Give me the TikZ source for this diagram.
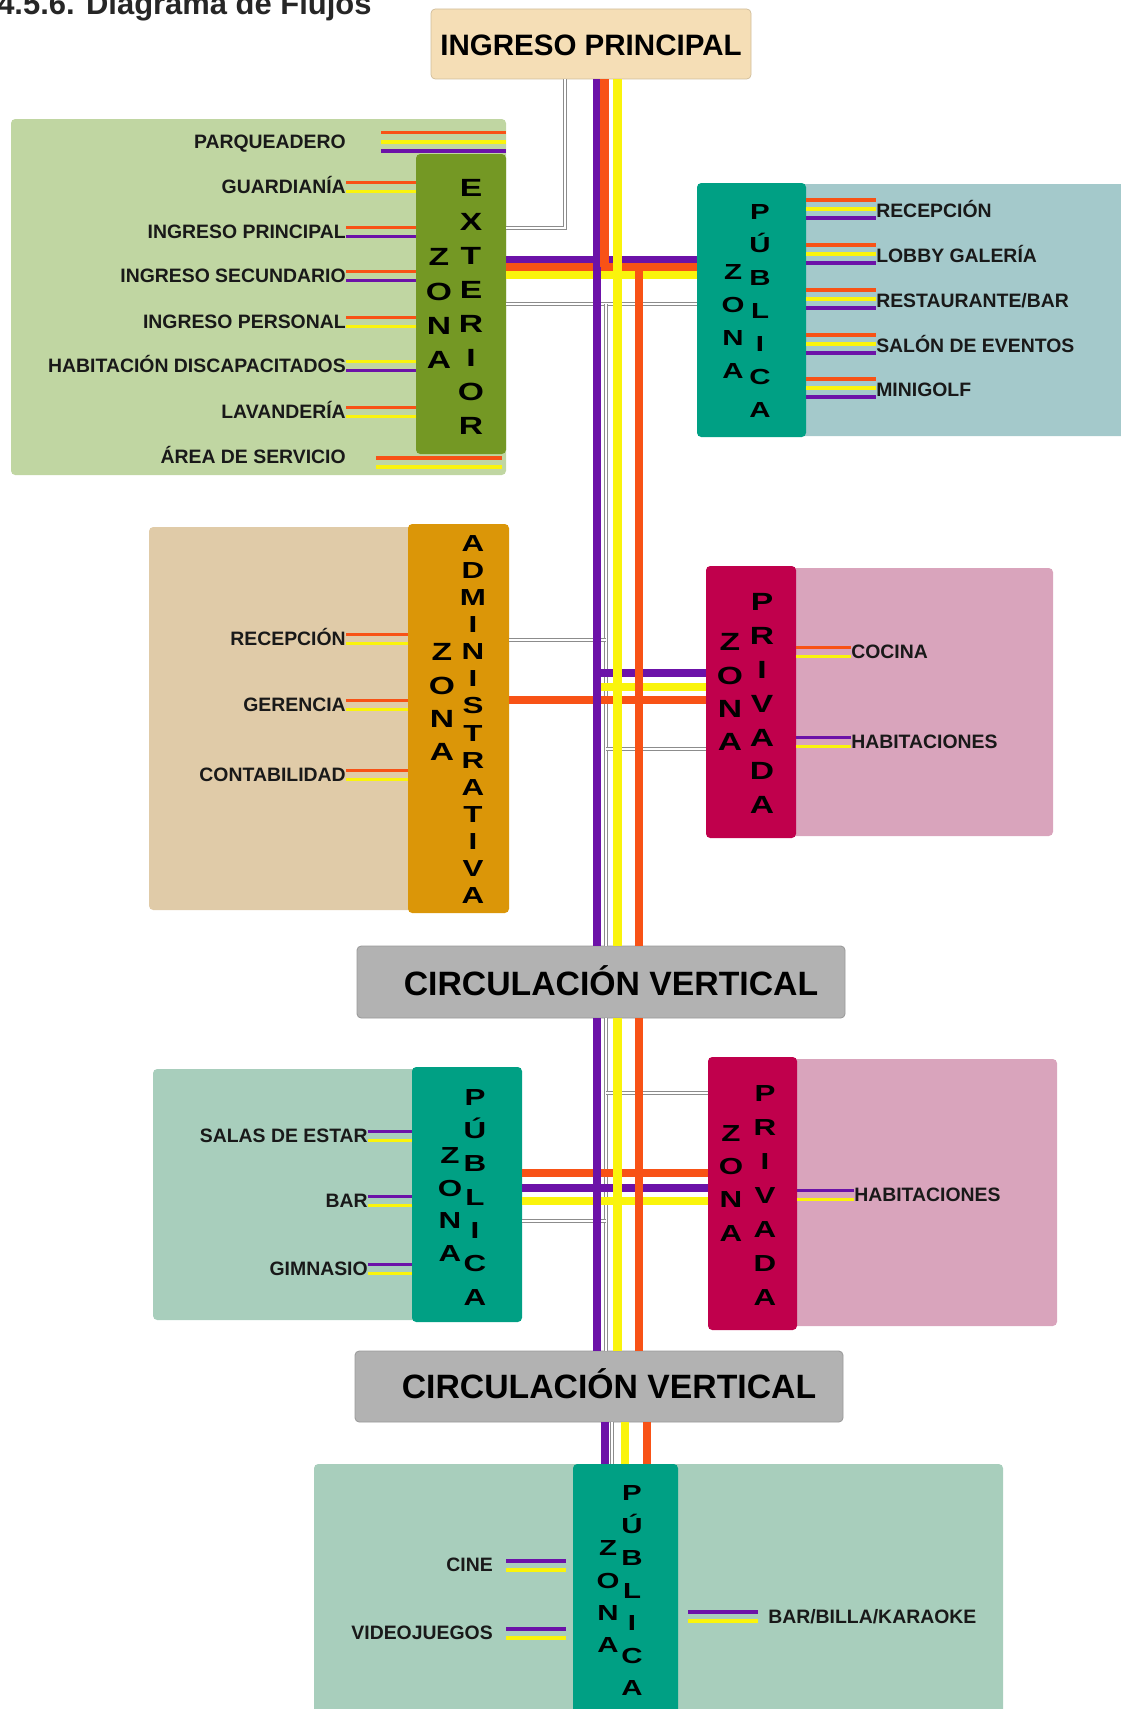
\documentclass[tikz,border=0pt]{standalone}
\usepackage{fontspec}
\setmainfont{Liberation Sans}
\newfontfamily\ltrfont[FakeStretch=1.35]{Liberation Sans}
\usepackage{xcolor}
\usepackage{tikz}
\usetikzlibrary{calc,fit,positioning}

\definecolor{ora}{RGB}{248,82,22}
\definecolor{yel}{RGB}{250,244,12}
\definecolor{pur}{RGB}{108,18,168}
\definecolor{ingfill}{RGB}{245,222,182}
\definecolor{extbg}{RGB}{192,214,162}
\definecolor{extbox}{RGB}{116,152,36}
\definecolor{pubbox}{RGB}{0,160,132}
\definecolor{pubbg}{RGB}{164,201,203}
\definecolor{pubbgb}{RGB}{168,206,188}
\definecolor{admbg}{RGB}{224,203,168}
\definecolor{admbox}{RGB}{219,150,8}
\definecolor{privbox}{RGB}{192,0,76}
\definecolor{privbg}{RGB}{217,164,188}
\definecolor{circfill}{RGB}{178,178,178}

\begin{document}
\begin{tikzpicture}[x=0.025cm, y=-0.025cm,
      zbg/.style={fill=#1, rounded corners=3pt, inner sep=0pt},
      zbox/.style={fill=#1, rounded corners=3pt, inner sep=0pt},
      ingbox/.style={fill=ingfill, draw=ingfill!85!black, line width=0.5pt, rounded corners=3pt, inner sep=0pt},
      ingtxt/.style={font=\bfseries\fontsize{21}{21}\selectfont, inner sep=0pt, text height=15pt, text depth=0pt},
      circbox/.style={fill=circfill, draw=black!40, line width=0.6pt, rounded corners=3pt, inner sep=0pt},
      circtxt/.style={font=\bfseries\fontsize{24}{24}\selectfont, inner sep=0pt, text height=17.3pt, text depth=0pt},
      ttl/.style={font=\bfseries\fontsize{22}{22}\selectfont, text=black!85, inner sep=0pt},
      lbl/.style={font=\bfseries\fontsize{13.8}{14}\selectfont, text=black!90, inner sep=0pt,
                  text height=9.9pt, text depth=0pt},
      bigltr/.style={font=\ltrfont\bfseries\fontsize{17.7}{17.7}\selectfont, inner sep=0pt, text height=12.7pt, text depth=0pt},
      midltr/.style={font=\ltrfont\bfseries\fontsize{16.5}{16.5}\selectfont, inner sep=0pt, text height=11.8pt, text depth=0pt},
      smlltr/.style={font=\ltrfont\bfseries\fontsize{15.5}{15.5}\selectfont, inner sep=0pt, text height=11.1pt, text depth=0pt},
      stub/.style={line width=2.5pt},
      band/.style={line width=5pt},
      trunk/.style={line width=6.2pt},
      svc/.style={draw=black!45, line width=0.5pt, double=white, double distance=1.4pt}]
    \useasboundingbox (0,0) rectangle (1120,1709);

    \node[ttl, anchor=base west] (ttl) at (-3,15) {4.5.6. Diagrama de Flujos};

    % fondos
    \node[zbg=extbg, fit={(11,119) (506,475)}] (extbg) {};
    \node[zbg=pubbg, fit={(800,184) (1125,436)}] (pubbg) {};
    \node[zbg=admbg, fit={(149,527) (414,910)}] (admbg) {};
    \node[zbg=privbg, fit={(790,568) (1053,836)}] (privbg) {};
    \node[zbg=pubbgb, fit={(153,1069) (418,1320)}] (pubbgb) {};
    \node[zbg=privbg, fit={(790,1059) (1057,1326)}] (privbgb) {};
    \node[zbg=pubbgb, fit={(314,1464) (1003,1730)}] (pubbgc) {};

    % zonas
    \node[zbox=extbox, fit={(416,154) (506,454)}] (ext) {};
    \node[zbox=pubbox, fit={(697,183) (806,437)}] (pub) {};
    \node[zbox=admbox, fit={(408,524) (509,913)}] (adm) {};
    \node[zbox=privbox, fit={(706,566) (796,838)}] (priv) {};
    \node[zbox=pubbox, fit={(412,1067) (522,1322)}] (pubb) {};
    \node[zbox=privbox, fit={(708,1057) (797,1330)}] (privb) {};
    \node[zbox=pubbox, fit={(573,1464) (678,1730)}] (pubc) {};
    \node[ingbox, fit={(431,9) (751,79)}] (ing) {};
    \node[ingtxt] (ingt) at ($(ing.center)+(0,1)$) {INGRESO PRINCIPAL};
    \node[circbox, fit={(357,946) (845,1018)}] (circa) {};
    \node[circtxt] (circat) at ($(circa.center)+(10,1)$) {CIRCULACIÓN VERTICAL};
    \node[circbox, fit={(355,1351) (843,1422)}] (circb) {};
    \node[circtxt] (circbt) at ($(circb.center)+(10,0)$) {CIRCULACIÓN VERTICAL};

    % letras de las zonas
    \foreach \lt [count=\ii from 0] in {Z,O,N,A} \node[bigltr] (exz\ii) at (439,{257+34.3*\ii}) {\lt};
    \foreach \lt [count=\ii from 0] in {E,X,T,E,R,I,O,R} \node[bigltr] (exe\ii) at (471,{188+33.9*\ii}) {\lt};
    \foreach \lt [count=\ii from 0] in {Z,O,N,A} \node[smlltr] (puz\ii) at (733,{272+33*\ii}) {\lt};
    \foreach \lt [count=\ii from 0] in {P,Ú,B,L,I,C,A} \node[smlltr] (pup\ii) at (760,{212+33*\ii}) {\lt};
    \foreach \lt [count=\ii from 0] in {Z,O,N,A} \node[bigltr] (adz\ii) at (442,{652+33.3*\ii}) {\lt};
    \foreach \lt [count=\ii from 0] in {A,D,M,I,N,I,S,T,R,A,T,I,V,A} \node[midltr] (ada\ii) at (473,{543+27.1*\ii}) {\lt};
    \foreach \lt [count=\ii from 0] in {Z,O,N,A} \node[bigltr] (prz\ii) at (730,{642+33.3*\ii}) {\lt};
    \foreach \lt [count=\ii from 0] in {P,R,I,V,A,D,A} \node[bigltr] (prp\ii) at (762,{602+33.8*\ii}) {\lt};
    \foreach \lt [count=\ii from 0] in {Z,O,N,A} \node[midltr] (pbz\ii) at (450,{1155+32.7*\ii}) {\lt};
    \foreach \lt [count=\ii from 0] in {P,Ú,B,L,I,C,A} \node[midltr] (pbp\ii) at (475,{1097+33.3*\ii}) {\lt};
    \foreach \lt [count=\ii from 0] in {Z,O,N,A} \node[midltr] (rbz\ii) at (731,{1133+33.3*\ii}) {\lt};
    \foreach \lt [count=\ii from 0] in {P,R,I,V,A,D,A} \node[midltr] (rbp\ii) at (765,{1093+34*\ii}) {\lt};
    \foreach \lt [count=\ii from 0] in {Z,O,N,A} \node[smlltr] (pcz\ii) at (608,{1548+32.3*\ii}) {\lt};
    \foreach \lt [count=\ii from 0] in {P,Ú,B,L,I,C,A} \node[smlltr] (pcp\ii) at (632,{1493+32.5*\ii}) {\lt};

    % espacios
    \node[lbl, anchor=east] (parq) at (346,142) {PARQUEADERO};
    \node[lbl, anchor=east] (gua) at (346,187) {GUARDIANÍA};
    \node[lbl, anchor=east] (ipr) at (346,232) {INGRESO PRINCIPAL};
    \node[lbl, anchor=east] (ise) at (346,276) {INGRESO SECUNDARIO};
    \node[lbl, anchor=east] (ipe) at (346,322) {INGRESO PERSONAL};
    \node[lbl, anchor=east] (hab) at (346,366) {HABITACIÓN DISCAPACITADOS};
    \node[lbl, anchor=east] (lav) at (346,412) {LAVANDERÍA};
    \node[lbl, anchor=east] (are) at (346,457) {ÁREA DE SERVICIO};
    \node[lbl, anchor=west] (rec) at (876,211) {RECEPCIÓN};
    \node[lbl, anchor=west] (lob) at (876,256) {LOBBY GALERÍA};
    \node[lbl, anchor=west] (res) at (876,301) {RESTAURANTE/BAR};
    \node[lbl, anchor=west] (sal) at (876,346) {SALÓN DE EVENTOS};
    \node[lbl, anchor=west] (min) at (876,390) {MINIGOLF};
    \node[lbl, anchor=east] (arec) at (346,639) {RECEPCIÓN};
    \node[lbl, anchor=east] (ger) at (346,705) {GERENCIA};
    \node[lbl, anchor=east] (con) at (346,775) {CONTABILIDAD};
    \node[lbl, anchor=west] (coc) at (851,652) {COCINA};
    \node[lbl, anchor=west] (hbt) at (851,742) {HABITACIONES};
    \node[lbl, anchor=east] (sde) at (368,1136) {SALAS DE ESTAR};
    \node[lbl, anchor=east] (bar) at (368,1201) {BAR};
    \node[lbl, anchor=east] (gim) at (368,1269) {GIMNASIO};
    \node[lbl, anchor=west] (hbtb) at (854,1195) {HABITACIONES};
    \node[lbl, anchor=east] (cin) at (493,1565) {CINE};
    \node[lbl, anchor=east] (vid) at (493,1633) {VIDEOJUEGOS};
    \node[lbl, anchor=west] (bbk) at (768,1617) {BAR/BILLA/KARAOKE};

    % flujos hacia cada espacio
    \foreach \kk/\dd in {ora/-9.5, yel/0, pur/9}
      \draw[stub,\kk] ($(parq.east)+(35,\dd)$) -- ($(parq.east -| ext.east)+(0,\dd)$);
    \foreach \nn/\ca/\cb in {gua/ora/yel, ipr/ora/pur, ise/ora/pur, ipe/ora/yel, hab/yel/pur, lav/ora/yel}{
      \draw[stub,\ca] ($(\nn.east)+(0,-4.5)$) -- ($(\nn.east -| ext.west)+(0,-4.5)$);
      \draw[stub,\cb] ($(\nn.east)+(0,4.5)$) -- ($(\nn.east -| ext.west)+(0,4.5)$);
    }
    \foreach \kk/\dd in {ora/1, yel/10}
      \draw[stub,\kk] ($(are.east)+(30,\dd)$) -- ($(are.east -| ext.east)+(-4,\dd)$);
    \foreach \nn in {rec,lob,res,sal,min}
      \foreach \kk/\dd in {ora/-11, yel/-2, pur/7}
        \draw[stub,\kk] ($(\nn.west -| pub.east)+(0,\dd)$) -- ($(\nn.west)+(0,\dd)$);
    \foreach \nn in {arec,ger,con}{
      \draw[stub,ora] ($(\nn.east)+(0,-4.5)$) -- ($(\nn.east -| adm.west)+(0,-4.5)$);
      \draw[stub,yel] ($(\nn.east)+(0,4.5)$) -- ($(\nn.east -| adm.west)+(0,4.5)$);
    }
    \foreach \nn/\ca/\cb in {coc/ora/yel, hbt/pur/yel}{
      \draw[stub,\ca] ($(\nn.west -| priv.east)+(0,-4.5)$) -- ($(\nn.west)+(0,-4.5)$);
      \draw[stub,\cb] ($(\nn.west -| priv.east)+(0,4.5)$) -- ($(\nn.west)+(0,4.5)$);
    }
    \foreach \nn in {sde,bar,gim}{
      \draw[stub,pur] ($(\nn.east)+(0,-4.5)$) -- ($(\nn.east -| pubb.west)+(0,-4.5)$);
      \draw[stub,yel] ($(\nn.east)+(0,4.5)$) -- ($(\nn.east -| pubb.west)+(0,4.5)$);
    }
    \draw[stub,pur] ($(hbtb.west -| privb.east)+(0,-4.5)$) -- ($(hbtb.west)+(0,-4.5)$);
    \draw[stub,yel] ($(hbtb.west -| privb.east)+(0,4.5)$) -- ($(hbtb.west)+(0,4.5)$);
    \foreach \nn in {cin,vid}{
      \draw[stub,pur] ($(\nn.east)+(13,-4)$) -- ($(\nn.east -| pubc.west)+(-7,-4)$);
      \draw[stub,yel] ($(\nn.east)+(13,5)$) -- ($(\nn.east -| pubc.west)+(-7,5)$);
    }
    \draw[stub,pur] ($(bbk.west -| pubc.east)+(10,-5)$) -- ($(bbk.west)+(-10,-5)$);
    \draw[stub,yel] ($(bbk.west -| pubc.east)+(10,4)$) -- ($(bbk.west)+(-10,4)$);

    % ejes de circulacion
    \coordinate (cP) at (597,0);
    \coordinate (cS) at (606,0);
    \coordinate (cY) at (617.5,0);
    \coordinate (cO) at (639,0);
    \coordinate (cOi) at (604.5,0);
    \coordinate (cI) at (565,0);
    \coordinate (dP) at (605,0);
    \coordinate (dS) at (612,0);
    \coordinate (dY) at (625,0);
    \coordinate (dO) at (647,0);
    \coordinate (rI) at (0,228);
    \coordinate (rPa) at (0,260);
    \coordinate (rOa) at (0,267);
    \coordinate (rYa) at (0,275);
    \coordinate (rSa) at (0,304);
    \coordinate (rSb) at (0,640);
    \coordinate (rPb) at (0,673);
    \coordinate (rYb) at (0,687);
    \coordinate (rOb) at (0,700);
    \coordinate (rSc) at (0,749);
    \coordinate (rSd) at (0,1093);
    \coordinate (rOc) at (0,1173);
    \coordinate (rPc) at (0,1188);
    \coordinate (rYc) at (0,1201);
    \coordinate (rSe) at (0,1221);

    % servicio
    \draw[svc] (ing.south -| cI) |- (ext.east |- rI);
    \draw[svc] (ext.east |- rSa) -- (pub.west |- rSa);
    \draw[svc] (cS |- rSa) -- (circa.north -| cS);
    \draw[svc] (adm.east |- rSb) -- (cS |- rSb);
    \draw[svc] (cS |- rSc) -- (priv.west |- rSc);
    \draw[svc] (circa.south -| cS) -- (circb.north -| cS);
    \draw[svc] (cS |- rSd) -- (privb.west |- rSd);
    \draw[svc] (pubb.east |- rSe) -- (cS |- rSe);
    \draw[svc] (circb.south -| dS) -- (pubc.north -| dS);

    % ramales
    \draw[band,pur] (ext.east |- rPa) -- (pub.west |- rPa);
    \draw[band,ora] (ext.east |- rOa) -- (pub.west |- rOa);
    \draw[band,yel] (ext.east |- rYa) -- (pub.west |- rYa);
    \draw[band,pur] (cP |- rPb) -- (priv.west |- rPb);
    \draw[band,yel] (cP |- rYb) -- (priv.west |- rYb);
    \draw[band,ora] (adm.east |- rOb) -- (priv.west |- rOb);
    \draw[band,ora] (pubb.east |- rOc) -- (privb.west |- rOc);
    \draw[band,pur] (pubb.east |- rPc) -- (privb.west |- rPc);
    \draw[band,yel] (pubb.east |- rYc) -- (privb.west |- rYc);

    % troncales
    \draw[trunk,pur] (ing.south -| cP) -- (circa.north -| cP);
    \draw[trunk,ora] (ing.south -| cOi) -- (cOi |- rOa);
    \draw[trunk,yel] (ing.south -| cY) -- (circa.north -| cY);
    \draw[trunk,ora] (cO |- rOa) -- (circa.north -| cO);
    \foreach \cc/\kk in {cP/pur, cY/yel, cO/ora}
      \draw[trunk,\kk] (circa.south -| \cc) -- (circb.north -| \cc);
    \foreach \cc/\kk in {dP/pur, dY/yel, dO/ora}
      \draw[trunk,\kk] (circb.south -| \cc) -- (pubc.north -| \cc);
  \end{tikzpicture}
\end{document}
